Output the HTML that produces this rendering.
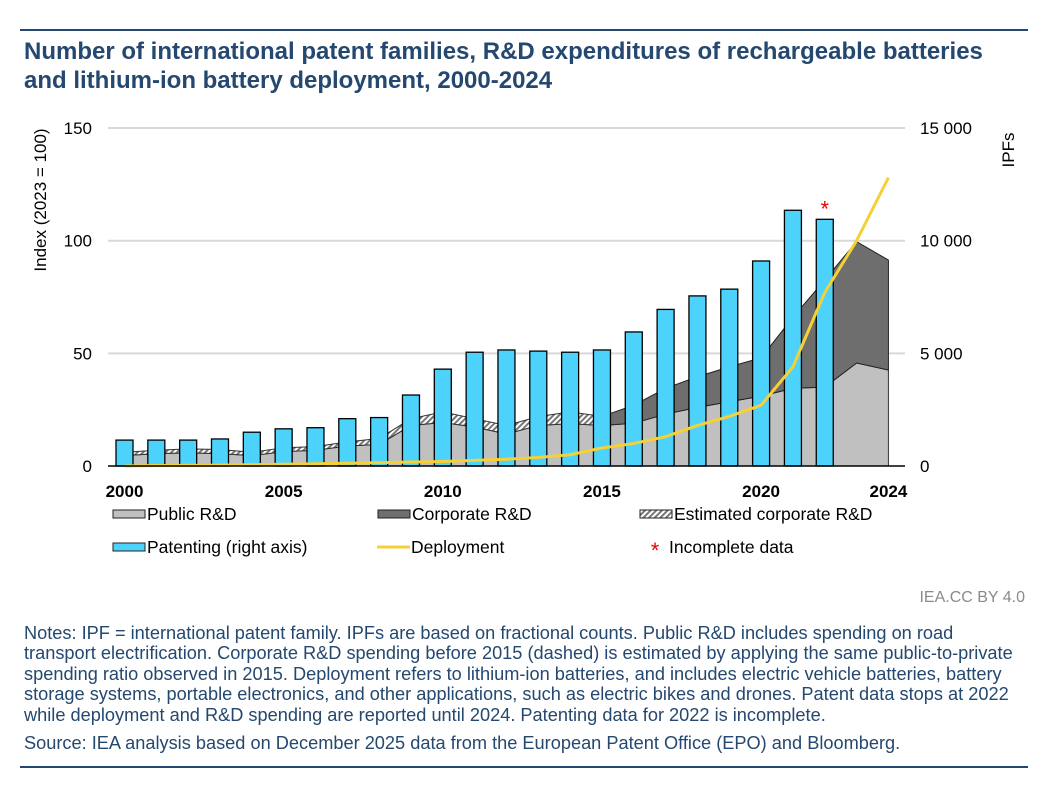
<!DOCTYPE html>
<html><head><meta charset="utf-8"><style>
body{margin:0;background:#fff;width:1061px;height:797px;overflow:hidden;font-family:"Liberation Sans",Arial,sans-serif}
.t{position:absolute;left:24px;top:37px;font-size:24px;font-weight:bold;color:#24486f;line-height:29px;white-space:nowrap}
.rule{position:absolute;left:20px;width:1008px;height:2px;background:#24486f}
.notes{position:absolute;left:24px;top:623px;font-size:18.2px;line-height:20.4px;color:#24486f;width:1004px}
</style></head><body>
<div class="rule" style="top:29px"></div>
<div class="t">Number of international patent families, R&amp;D expenditures of rechargeable batteries<br>and lithium-ion battery deployment, 2000-2024</div>
<svg id="chart" width="1061" height="797" style="position:absolute;left:0;top:0" font-family="Liberation Sans, Arial, sans-serif">
<defs><pattern id="hatch" width="4" height="4" patternUnits="userSpaceOnUse" patternTransform="rotate(45)"><rect width="4" height="4" fill="#fff"/><rect width="2" height="4" fill="#777"/></pattern></defs>
</svg>
<div style="position:absolute;right:36px;top:589px;font-size:16px;color:#8a8a8a">IEA.CC BY 4.0</div>
<div class="notes">Notes: IPF = international patent family. IPFs are based on fractional counts. Public R&amp;D includes spending on road transport electrification. Corporate R&amp;D spending before 2015 (dashed) is estimated by applying the same public-to-private spending ratio observed in 2015. Deployment refers to lithium-ion batteries, and includes electric vehicle batteries, battery storage systems, portable electronics, and other applications, such as electric bikes and drones. Patent data stops at 2022 while deployment and R&amp;D spending are reported until 2024. Patenting data for 2022 is incomplete.<div style="margin-top:8px">Source: IEA analysis based on December 2025 data from the European Patent Office (EPO) and Bloomberg.</div></div>
<div class="rule" style="top:766px"></div>
<script>
const years=[2000,2001,2002,2003,2004,2005,2006,2007,2008,2009,2010,2011,2012,2013,2014,2015,2016,2017,2018,2019,2020,2021,2022,2023,2024];
const publicRD=[4.6,5.5,5.8,5.5,4.6,6.4,7,8.9,9.6,18,19.3,17.3,14.2,18,18.8,18,19,23,26,28.5,31,34.5,35,45.7,42.6];
const estCorporateTotal=[6.1,7,7.6,7.3,6.1,8.1,8.6,10.7,12.2,21,24,21,18,21.9,24,22];
const corporateTotal=[22,27,34.5,39.6,44,48,66,82.6,99.6,91.4];
const corporateYears=[2015,2016,2017,2018,2019,2020,2021,2022,2023,2024];
const patents=[1150,1150,1150,1200,1500,1650,1700,2100,2150,3150,4300,5050,5150,5100,5050,5150,5950,6950,7550,7850,9100,11350,10950];
const deployment=[0,0.2,0.3,0.4,0.6,0.8,1,1.2,1.5,1.8,2,2.5,3,3.8,5,8,10,13,18,22,27,44,77,100,128];
const leftTicks=[0,50,100,150];
const rightTicks=["0","5 000","10 000","15 000"];
const xLabels=[2000,2005,2010,2015,2020,2024];

const svg=document.getElementById('chart');const NS='http://www.w3.org/2000/svg';
const X=y=>124.5+(y-2000)*31.83;
const Y=v=>466-v*2.253;
const YR=v=>466-v/100*2.253;
function mk(t,a,p){const e=document.createElementNS(NS,t);for(const k in a)e.setAttribute(k,a[k]);(p||svg).appendChild(e);return e;}
function txt(s,a){const e=mk('text',a);e.textContent=s;return e;}
leftTicks.forEach((v,i)=>{
 if(v>0){const g=mk('line',{x1:108,x2:905,y1:Y(v),y2:Y(v),stroke:'#d9d9d9','stroke-width':2});
 
 }
 const l=txt(v,{x:92,y:Y(v)+6,'text-anchor':'end','font-size':17,fill:'#000'});
 
 
 const r=txt(rightTicks[i],{x:920,y:Y(v)+6,'font-size':17,fill:'#000'});
 
 
});
let d='M'+X(2000)+','+Y(0);years.forEach((y,i)=>d+=' L'+X(y)+','+Y(publicRD[i]));d+=' L'+X(2024)+','+Y(0)+'Z';
const pa=mk('path',{d:d,fill:'#c0c0c0',stroke:'#333','stroke-width':1});


let e='M'+X(2000)+','+Y(estCorporateTotal[0]);estCorporateTotal.forEach((v,i)=>e+=' L'+X(years[i])+','+Y(v));
for(let i=estCorporateTotal.length-1;i>=0;i--)e+=' L'+X(years[i])+','+Y(publicRD[i]);e+='Z';
const ea=mk('path',{d:e,fill:'url(#hatch)',stroke:'#333','stroke-width':1});


let c='';corporateTotal.forEach((v,i)=>c+=(i?' L':'M')+X(corporateYears[i])+','+Y(v));
for(let i=corporateYears.length-1;i>=0;i--)c+=' L'+X(corporateYears[i])+','+Y(publicRD[years.indexOf(corporateYears[i])]);c+='Z';
const ca=mk('path',{d:c,fill:'#6e6e6e',stroke:'#222','stroke-width':1});


patents.forEach((v,i)=>{const b=mk('rect',{x:X(years[i])-8.5,y:YR(v),width:17,height:466-YR(v),fill:'#4dd2fb',stroke:'#000','stroke-width':1.3});
 
 });
const dl=mk('polyline',{points:years.map((y,i)=>X(y)+','+Y(deployment[i])).join(' '),fill:'none',stroke:'#f5d037','stroke-width':3,'stroke-linejoin':'round'});


const st=txt('*',{x:X(2022),y:YR(patents[22])-3,'text-anchor':'middle','font-size':22,fill:'#e00'});


const ax=mk('line',{x1:108,x2:905,y1:466,y2:466,stroke:'#000','stroke-width':1.5});


xLabels.forEach(y=>{const l=txt(y,{x:X(y),y:497,'text-anchor':'middle','font-size':17,'font-weight':'bold',fill:'#000'});
 
 });
const yt=txt('Index (2023 = 100)',{x:0,y:0,transform:'translate(46,200) rotate(-90)','text-anchor':'middle','font-size':17});


const rt=txt('IPFs',{x:0,y:0,transform:'translate(1014,150) rotate(-90)','text-anchor':'middle','font-size':17});


function leg(name,x,y,label,kind){const g=mk('g',{});
 
 
 if(kind==='line')mk('line',{x1:x,x2:x+33,y1:y,y2:y,stroke:'#f5d037','stroke-width':3},g);
 else if(kind==='star'){const s=mk('text',{x:x+25,y:y+11,'font-size':22,fill:'#e00','text-anchor':'middle'},g);s.textContent='*';}
 else mk('rect',{x:x,y:y-4,width:32,height:8,fill:kind,stroke:'#222','stroke-width':1},g);
 const t=mk('text',{x:kind==='star'?x+39:x+34,y:y+6,'font-size':17.5},g);t.textContent=label;}
leg('legend-public-rd',113,514,'Public R&D','#c0c0c0');
leg('legend-corporate-rd',378,514,'Corporate R&D','#6e6e6e');
leg('legend-estimated-corporate-rd',640,514,'Estimated corporate R&D','url(#hatch)');
leg('legend-patenting',113,547,'Patenting (right axis)','#4dd2fb');
leg('legend-deployment',377,547,'Deployment','line');
leg('legend-incomplete-data',630,547,'Incomplete data','star');
</script>
</body></html>
